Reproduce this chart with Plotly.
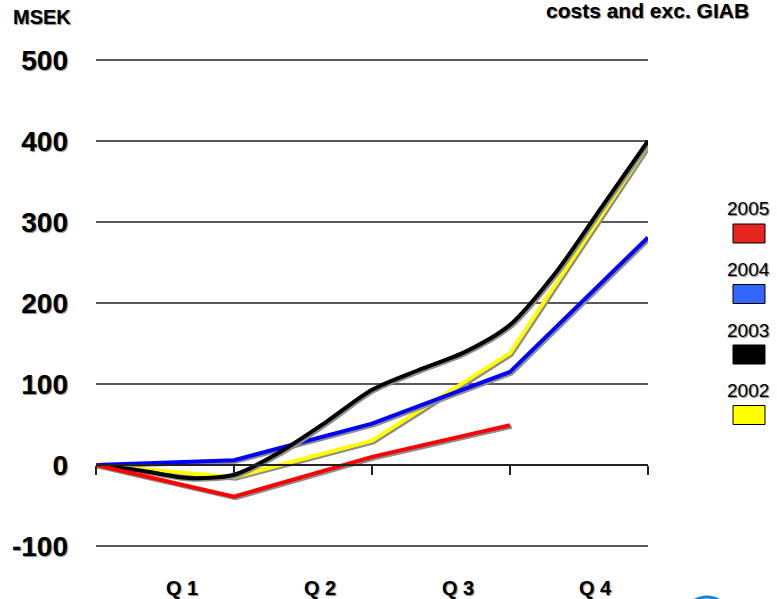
import plotly.graph_objects as go

# Cumulative result per quarter, MSEK
quarter_labels = ["Q 1", "Q 2", "Q 3", "Q 4"]
quarter_ends = [0, 1, 2, 3, 4]
months = [0, 1/3, 2/3, 1, 4/3, 5/3, 2, 7/3, 8/3, 3, 10/3, 11/3, 4]

y2005 = [0, -39, 10, 49]
y2004 = [0, 6, 51, 115, 281]
y2003 = [0, -7, -16, -12, 16, 53, 93, 117, 139, 173, 238, 319, 400]
y2002 = [0, -15, 30, 138, 395]

y_ticks = [-100, 0, 100, 200, 300, 400, 500]
y_tick_labels = ["-100", "0", "100", "200", "300", "400", "500"]

legend_years = ["2005", "2004", "2003", "2002"]
legend_colors = ["#e4261f", "#3366ff", "#000000", "#ffff00"]

FONT = "Arial, Liberation Sans, sans-serif"
SHADOW = "1px 1px 1px #8a8a8a"

W, H = 777, 599
L, R, T, B = 96, 129, 59, 52
PW, PH = W - L - R, H - T - B
Y_RANGE = [-101.2, 501.2]
PX_PER_UNIT_Y = PH / (Y_RANGE[1] - Y_RANGE[0])
PX_PER_UNIT_X = PW / 4.0


def px(x):
    return (x - L) / PW


def py(y):
    return (H - B - y) / PH


fig = go.Figure()


def add_series(xs, ys, color, name, spline=False):
    """Draw a series with a soft grey drop shadow offset down and to the right."""
    dx, dy = 1.6 / PX_PER_UNIT_X, 1.6 / PX_PER_UNIT_Y
    line_extra = dict(shape="spline", smoothing=0.8) if spline else {}
    fig.add_trace(go.Scatter(x=[v + dx for v in xs], y=[v - dy for v in ys], mode="lines",
                             line=dict(color="#8c8c8c", width=4, **line_extra),
                             hoverinfo="skip", name=name + " shadow"))
    fig.add_trace(go.Scatter(x=xs, y=ys, mode="lines",
                             line=dict(color=color, width=4, **line_extra), name=name))


add_series(quarter_ends[:len(y2002)], y2002, "#ffff00", "2002")
add_series(quarter_ends[:len(y2004)], y2004, "#0000ff", "2004")
add_series(months, y2003, "#000000", "2003", spline=True)
add_series(quarter_ends[:len(y2005)], y2005, "#ff0000", "2005")

annotations = []
shapes = []

# Horizontal gridlines (the zero level is drawn by the x axis itself)
for v in y_ticks:
    if v != 0:
        shapes.append(dict(type="line", xref="x", yref="y", x0=0, x1=4, y0=v, y1=v,
                           line=dict(color="#222", width=1.5), layer="below"))

# Quarter labels under the plot area
for i, q in enumerate(quarter_labels):
    annotations.append(dict(x=i + 0.62, y=py(588), xref="x", yref="paper", text=f"<b>{q}</b>",
                            showarrow=False, xanchor="center", yanchor="middle",
                            font=dict(family=FONT, size=20, color="black", shadow=SHADOW)))

# Unit and heading text
annotations.append(dict(x=px(11), y=py(17), xref="paper", yref="paper", text="<b>MSEK</b>",
                        showarrow=False, xanchor="left", yanchor="middle",
                        font=dict(family=FONT, size=20, color="black", shadow=SHADOW)))
annotations.append(dict(x=px(751), y=py(11), xref="paper", yref="paper",
                        text="<b>costs and exc. GIAB</b>",
                        showarrow=False, xanchor="right", yanchor="middle",
                        font=dict(family=FONT, size=21, color="black", shadow=SHADOW)))

# Legend: year label above a coloured swatch
for i, (yr, col) in enumerate(zip(legend_years, legend_colors)):
    top = 224 + i * 60.5
    annotations.append(dict(x=px(748), y=py(top - 15), xref="paper", yref="paper", text=yr,
                            showarrow=False, xanchor="center", yanchor="middle",
                            font=dict(family=FONT, size=19, color="black", shadow=SHADOW)))
    shapes.append(dict(type="rect", xref="paper", yref="paper",
                       x0=px(733), x1=px(765), y0=py(top), y1=py(top + 19),
                       fillcolor=col, line=dict(color="black", width=1)))

# Logo arc at the bottom edge
shapes.append(dict(type="circle", xref="paper", yref="paper",
                   x0=px(683), x1=px(731), y0=py(597), y1=py(645),
                   line=dict(color="#1a80d4", width=3)))

fig.update_layout(
    width=W, height=H,
    margin=dict(l=L, r=R, t=T, b=B),
    plot_bgcolor="white", paper_bgcolor="white",
    showlegend=False,
    annotations=annotations,
    shapes=shapes,
    xaxis=dict(range=[0, 4], tickvals=quarter_ends, showticklabels=False,
               ticks="outside", ticklen=9, tickwidth=1.5, tickcolor="#222",
               showline=True, linecolor="#222", linewidth=1.5,
               showgrid=False, zeroline=False,
               anchor="free", position=(0 - Y_RANGE[0]) / (Y_RANGE[1] - Y_RANGE[0])),
    yaxis=dict(range=Y_RANGE, tickvals=y_ticks, ticktext=y_tick_labels,
               showgrid=False, zeroline=False, showline=False, ticks="",
               ticklabelstandoff=27,
               tickfont=dict(family=FONT, size=28, color="black", weight="bold", shadow=SHADOW)),
)

fig.write_html("out.html")
